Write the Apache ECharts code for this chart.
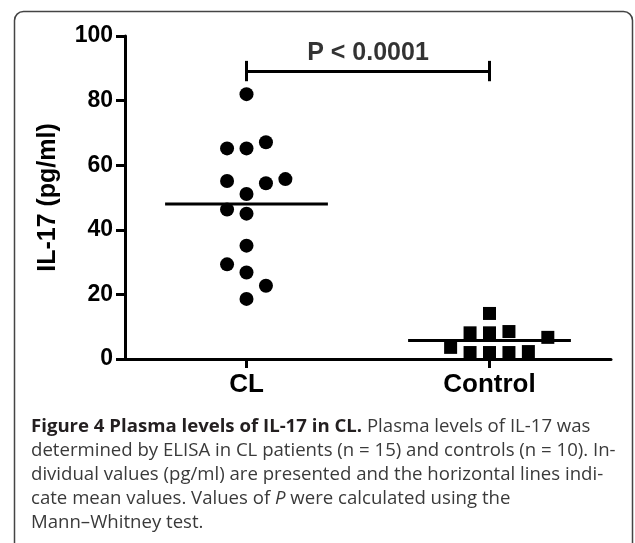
<!DOCTYPE html>
<html>
<head>
<meta charset="utf-8">
<script src="https://cdn.jsdelivr.net/npm/echarts@6/dist/echarts.min.js"></script>
<style>
html, body { margin: 0; padding: 0; background: #fff; }
#chart { width: 635px; height: 543px; }
</style>
</head>
<body>
<div id="chart"></div>
<script>
// group names and their positions on the x value axis
const groups = ['CL', 'Control'];
const groupPos = [1, 2];

// IL-17 (pg/ml) per subject
const clValues = [82.0, 65.2, 65.2, 67.1, 55.1, 54.4, 55.7, 51.1, 46.3, 45.0, 35.1, 29.3, 26.8, 22.7, 18.6];
// horizontal dodge slot of each point (scatter dot plot)
const clSlots = [0, -1, 0, 1, -1, 1, 2, 0, -1, 0, 0, -1, 0, 1, 0];

const ctrlValues = [14.1, 8.1, 8.1, 8.5, 6.7, 3.6, 2.0, 2.0, 2.0, 2.3];
const ctrlSlots = [0, -1, 0, 1, 3, -2, -1, 0, 1, 2];

const yTicks = [0, 20, 40, 60, 80, 100];
const pText = 'P < 0.0001';

const captionLines = [
    '{b|Figure 4 Plasma levels of IL-17 in CL.} Plasma levels of IL-17 was',
    'determined by ELISA in CL patients (n = 15) and controls (n = 10). In-',
    'dividual values (pg/ml) are presented and the horizontal lines indi-',
    'cate mean values. Values of {i|P} were calculated using the',
    'Mann\u2013Whitney test.'
];

const step = 0.08;      // dodge step in axis units
const halfMean = 0.335; // half length of mean bar

function points(pos, vals, slots) {
    return vals.map((v, i) => [pos + slots[i] * step, v]);
}
function mean(vals) {
    return vals.reduce((a, b) => a + b, 0) / vals.length;
}
function meanLine(pos, vals) {
    const m = mean(vals);
    return [[pos - halfMean, m], [pos + halfMean, m]];
}

const capFont = '"Open Sans", sans-serif';
const capSize = 18.6;
const capGraphics = captionLines.map((t, i) => ({
    type: 'text',
    x: 31,
    y: 427 + i * 24,
    style: {
        text: t,
        font: capSize + 'px ' + capFont,
        fill: '#3a3a3a',
        verticalAlign: 'middle',
        rich: {
            b: { fontFamily: capFont, fontSize: capSize, fontWeight: 'bold', fill: '#231f20' },
            i: { fontFamily: capFont, fontSize: capSize, fontStyle: 'italic', fill: '#3a3a3a' }
        }
    }
}));

let myChart = echarts.init(document.getElementById('chart'));
let option = {
    animation: false,
    textStyle: { fontFamily: '"Liberation Sans", Arial, sans-serif' },
    grid: { left: 125, right: 24, top: 36, bottom: 184 },
    xAxis: {
        type: 'value',
        min: 0.5,
        max: 2.5,
        splitLine: { show: false },
        axisLine: { show: true, lineStyle: { color: '#000', width: 3 } },
        axisTick: { show: true, customValues: groupPos, length: 9, lineStyle: { color: '#000', width: 3 } },
        axisLabel: {
            customValues: groupPos,
            formatter: (v) => groups[groupPos.indexOf(v)],
            color: '#000',
            fontWeight: 'bold',
            fontSize: 26,
            margin: 13
        }
    },
    yAxis: {
        type: 'value',
        min: 0,
        max: 100,
        interval: 20,
        name: 'IL-17 (pg/ml)',
        nameLocation: 'middle',
        nameGap: 64,
        nameTextStyle: { color: '#000', fontWeight: 'bold', fontSize: 25 },
        splitLine: { show: false },
        axisLine: { show: true, lineStyle: { color: '#000', width: 3 } },
        axisTick: { show: true, length: 9, lineStyle: { color: '#000', width: 3 } },
        axisLabel: {
            color: '#000',
            fontWeight: 'bold',
            fontSize: 23,
            margin: 12,
            customValues: yTicks
        }
    },
    series: [
        {
            type: 'line',
            data: meanLine(groupPos[0], clValues),
            symbol: 'none',
            lineStyle: { color: '#000', width: 3 },
            z: 3
        },
        {
            type: 'line',
            data: meanLine(groupPos[1], ctrlValues),
            symbol: 'none',
            lineStyle: { color: '#000', width: 3 },
            z: 3
        },
        {
            name: 'CL',
            type: 'scatter',
            data: points(groupPos[0], clValues, clSlots),
            symbol: 'circle',
            symbolSize: 14,
            itemStyle: { color: '#000', opacity: 1 },
            z: 4
        },
        {
            name: 'Control',
            type: 'scatter',
            data: points(groupPos[1], ctrlValues, ctrlSlots),
            symbol: 'rect',
            symbolSize: 13,
            itemStyle: { color: '#000', opacity: 1 },
            z: 4
        },
        {
            // significance bracket + p value
            type: 'scatter',
            data: [[(groupPos[0] + groupPos[1]) / 2, 94.6]],
            symbolSize: 0,
            label: {
                show: true,
                position: 'inside',
                formatter: pText,
                color: '#000',
                fontWeight: 'bold',
                fontSize: 25
            },
            markLine: {
                silent: true,
                symbol: 'none',
                label: { show: false },
                lineStyle: { color: '#000', width: 3, type: 'solid' },
                data: [
                    [{ coord: [groupPos[0], 89.2] }, { coord: [groupPos[1], 89.2] }],
                    [{ coord: [groupPos[0], 92.3] }, { coord: [groupPos[0], 86.0] }],
                    [{ coord: [groupPos[1], 92.3] }, { coord: [groupPos[1], 86.0] }]
                ]
            }
        }
    ],
    graphic: [
        {
            type: 'rect',
            shape: { x: 14.5, y: 11.5, width: 618, height: 560, r: [9, 9, 0, 0] },
            style: { fill: 'none', stroke: '#444', lineWidth: 1.5 },
            silent: true
        }
    ].concat(capGraphics)
};
myChart.setOption(option); // 设置option
</script>
</body>
</html>
